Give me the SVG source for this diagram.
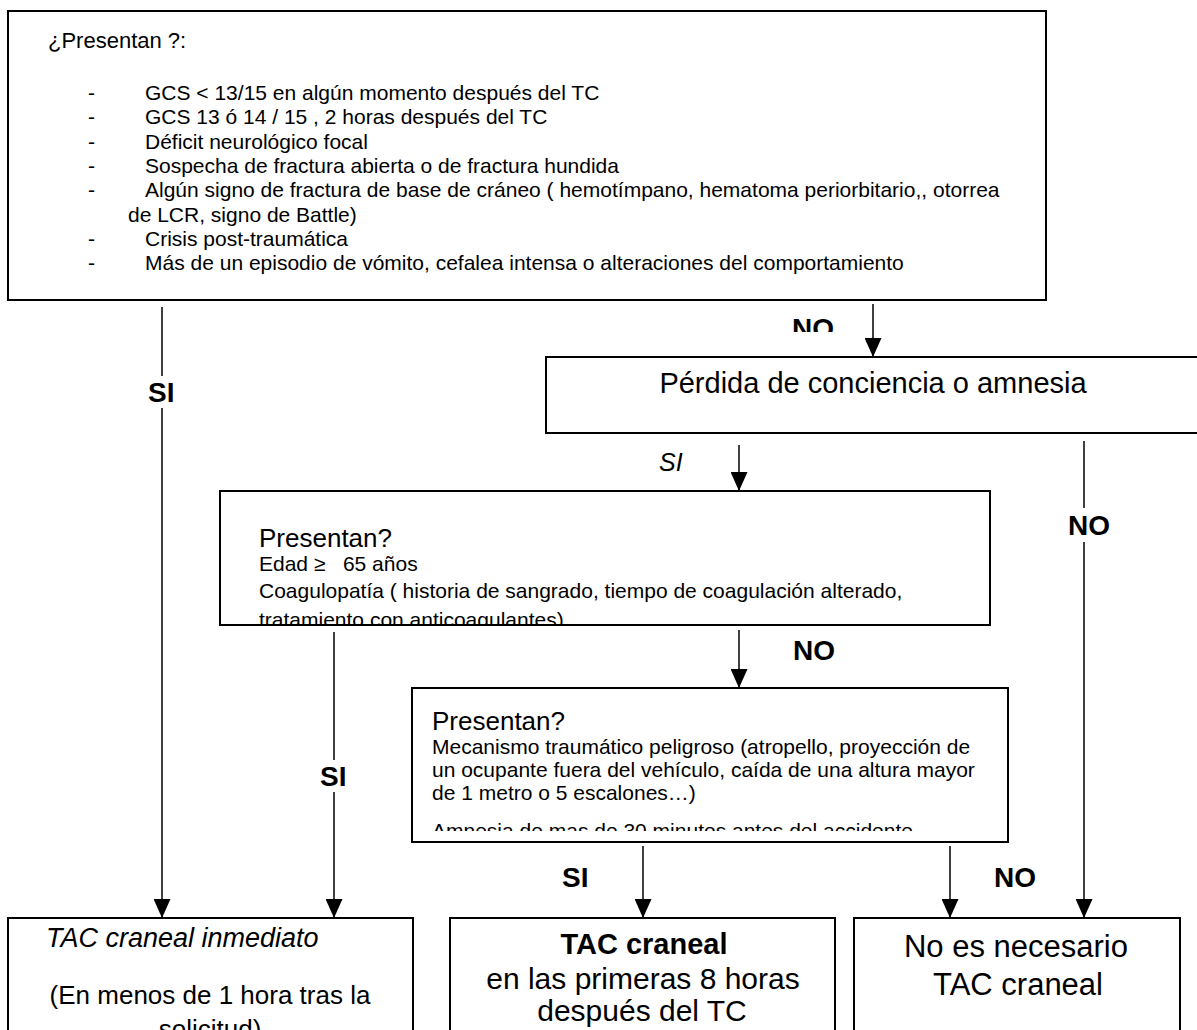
<svg xmlns="http://www.w3.org/2000/svg" width="1197" height="1030" viewBox="0 0 1197 1030">
<style>
  .box { fill: #fff; stroke: #000; stroke-width: 2; }
  .ln { stroke: #000; stroke-width: 1.5; fill: none; }
  .bg { fill: #fff; stroke: none; }
  text { font-family: "Liberation Sans", Arial, sans-serif; fill: #000; }
  .lbl { font-weight: bold; font-size: 28px; }
  .itm { font-size: 21px; }
  .head { font-size: 26px; }
</style>
<defs>
  <marker id="arr" markerUnits="userSpaceOnUse" markerWidth="19" markerHeight="17" refX="19" refY="8.5" orient="auto">
    <path d="M0,0 L19,8.5 L0,17 Z" fill="#000"/>
  </marker>
  <clipPath id="cNO"><rect x="700" y="300" width="160" height="32"/></clipPath>
  <clipPath id="cB1"><rect x="220" y="491" width="770" height="134"/></clipPath>
  <clipPath id="cB2"><rect x="412" y="688" width="596" height="143"/></clipPath>
</defs>

<g id="connectors">
  <line class="ln" x1="162" y1="307" x2="162" y2="918" marker-end="url(#arr)"/>
  <line class="ln" x1="873" y1="304" x2="873" y2="357" marker-end="url(#arr)"/>
  <line class="ln" x1="739" y1="445" x2="739" y2="491" marker-end="url(#arr)"/>
  <line class="ln" x1="1084" y1="441" x2="1084" y2="918" marker-end="url(#arr)"/>
  <line class="ln" x1="334" y1="632" x2="334" y2="918" marker-end="url(#arr)"/>
  <line class="ln" x1="739" y1="630" x2="739" y2="688" marker-end="url(#arr)"/>
  <line class="ln" x1="643" y1="846" x2="643" y2="918" marker-end="url(#arr)"/>
  <line class="ln" x1="950" y1="846" x2="950" y2="918" marker-end="url(#arr)"/>
  <rect class="bg" x="144" y="376" width="36" height="32"/>
  <text class="lbl" x="148" y="402">SI</text>
  <text class="lbl" x="792" y="338" clip-path="url(#cNO)">NO</text>
  <text x="659" y="471" font-size="25" font-style="italic">SI</text>
  <rect class="bg" x="1064" y="508" width="50" height="34"/>
  <text class="lbl" x="1068" y="535">NO</text>
  <rect class="bg" x="316" y="760" width="36" height="32"/>
  <text class="lbl" x="320" y="786">SI</text>
  <text class="lbl" x="793" y="660">NO</text>
  <text class="lbl" x="562" y="887">SI</text>
  <text class="lbl" x="994" y="887">NO</text>
</g>

<g id="node-top">
  <rect class="box" x="8" y="11" width="1038" height="289"/>
  <text x="48" y="48" font-size="22">¿Presentan ?:</text>
  <g class="itm">
    <text x="88" y="100">-</text><text x="145" y="100">GCS &lt; 13/15 en algún momento después del TC</text>
    <text x="88" y="124">-</text><text x="145" y="124">GCS 13 ó 14 / 15 , 2 horas después del TC</text>
    <text x="88" y="148.5">-</text><text x="145" y="148.5">Déficit neurológico focal</text>
    <text x="88" y="173">-</text><text x="145" y="173">Sospecha de fractura abierta o de fractura hundida</text>
    <text x="88" y="197">-</text><text x="145" y="197">Algún signo de fractura de base de cráneo ( hemotímpano, hematoma periorbitario,, otorrea</text>
    <text x="128" y="221.5">de LCR, signo de Battle)</text>
    <text x="88" y="245.5">-</text><text x="145" y="245.5">Crisis post-traumática</text>
    <text x="88" y="270">-</text><text x="145" y="270">Más de un episodio de vómito, cefalea intensa o alteraciones del comportamiento</text>
  </g>
</g>

<g id="node-perdida">
  <rect class="box" x="546" y="357" width="700" height="76"/>
  <text x="873" y="393" font-size="29" text-anchor="middle">Pérdida de conciencia o amnesia</text>
</g>

<g id="node-edad">
  <rect class="box" x="220" y="491" width="770" height="134"/>
  <g clip-path="url(#cB1)">
    <text class="head" x="259" y="547">Presentan?</text>
    <g class="itm">
      <text x="259" y="571" xml:space="preserve">Edad ≥   65 años</text>
      <text x="259" y="598">Coagulopatía ( historia de sangrado, tiempo de coagulación alterado,</text>
      <text x="259" y="627">tratamiento con anticoagulantes)</text>
    </g>
  </g>
</g>

<g id="node-mecanismo">
  <rect class="box" x="412" y="688" width="596" height="154"/>
  <g clip-path="url(#cB2)">
    <text class="head" x="432" y="730">Presentan?</text>
    <g class="itm">
      <text x="432" y="754">Mecanismo traumático peligroso (atropello, proyección de</text>
      <text x="432" y="777">un ocupante fuera del vehículo, caída de una altura mayor</text>
      <text x="432" y="800">de 1 metro o 5 escalones…)</text>
      <text x="432" y="838">Amnesia de mas de 30 minutos antes del accidente</text>
    </g>
  </g>
</g>

<g id="node-tac-inmediato">
  <rect class="box" x="8" y="918" width="405" height="130"/>
  <text x="46" y="947" font-size="27" font-style="italic">TAC craneal inmediato</text>
  <text x="210" y="1004" font-size="26" text-anchor="middle">(En menos de 1 hora tras la</text>
  <text x="210" y="1038" font-size="26" text-anchor="middle">solicitud)</text>
</g>

<g id="node-tac-8h">
  <rect class="box" x="450" y="918" width="385" height="130"/>
  <text x="644" y="954" font-size="29" font-weight="bold" text-anchor="middle">TAC craneal</text>
  <text x="643" y="989" font-size="30" text-anchor="middle">en las primeras 8 horas</text>
  <text x="642" y="1021" font-size="30" text-anchor="middle">después del TC</text>
</g>

<g id="node-no-tac">
  <rect class="box" x="854" y="918" width="326" height="130"/>
  <text x="1016" y="957" font-size="31" text-anchor="middle">No es necesario</text>
  <text x="1018" y="995" font-size="31" text-anchor="middle">TAC craneal</text>
</g>
</svg>
